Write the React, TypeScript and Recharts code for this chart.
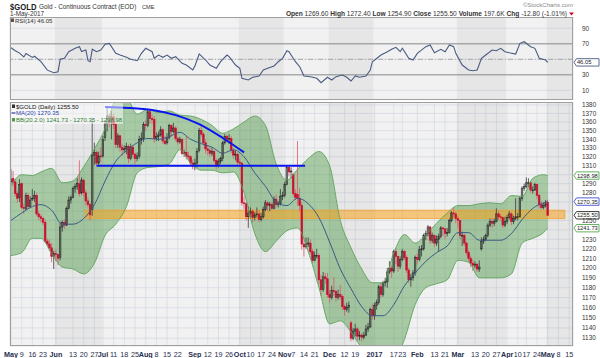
import {
  ComposedChart,
  Bar,
  Line,
  Area,
  XAxis,
  YAxis,
  CartesianGrid,
  ReferenceArea,
  ReferenceLine,
} from 'recharts';

type Candle = [number, number, number, number]; // open, high, low, close

const FONT = '"Liberation Sans", Arial, sans-serif';

// daily candles, one array per month
const may2016: Candle[] = [
  [1292, 1306, 1289, 1295], [1296, 1304, 1287, 1291], [1292, 1295, 1276, 1279], [1279, 1282, 1269, 1274], [1275, 1295, 1270, 1289],
  [1290, 1291, 1262, 1264], [1264, 1268, 1257, 1263], [1263, 1280, 1261, 1277], [1277, 1280, 1263, 1265], [1265, 1276, 1263, 1272],
  [1273, 1284, 1271, 1274], [1274, 1282, 1270, 1277], [1277, 1280, 1255, 1257], [1257, 1260, 1250, 1254], [1254, 1257, 1248, 1252],
  [1252, 1254, 1245, 1248], [1248, 1251, 1226, 1228], [1228, 1231, 1223, 1225], [1225, 1230, 1218, 1221], [1221, 1226, 1206, 1212],
  [1212, 1218, 1199, 1215],
];
const jun2016: Candle[] = [
  [1215, 1219, 1207, 1214], [1214, 1215, 1203, 1210], [1211, 1248, 1208, 1243],
  [1243, 1250, 1238, 1248], [1248, 1251, 1241, 1245], [1245, 1265, 1244, 1263], [1263, 1276, 1262, 1272], [1272, 1277, 1268, 1275],
  [1275, 1287, 1274, 1285], [1285, 1290, 1280, 1287], [1287, 1296, 1283, 1290], [1290, 1316, 1276, 1279], [1280, 1297, 1278, 1294],
  [1294, 1295, 1276, 1280], [1280, 1283, 1266, 1271], [1271, 1275, 1264, 1267], [1267, 1269, 1250, 1256], [1262, 1362, 1255, 1322],
  [1322, 1336, 1311, 1325], [1325, 1327, 1310, 1313], [1313, 1326, 1311, 1321], [1321, 1331, 1314, 1320],
];
const jul2016: Candle[] = [
  [1321, 1344, 1319, 1340],
  [1342, 1362, 1338, 1358], [1358, 1377, 1349, 1367], [1367, 1370, 1354, 1359], [1360, 1373, 1340, 1366],
  [1366, 1370, 1352, 1357], [1357, 1359, 1330, 1334], [1334, 1347, 1330, 1344], [1344, 1345, 1326, 1331], [1331, 1335, 1321, 1328],
  [1328, 1333, 1325, 1329], [1329, 1336, 1323, 1332], [1332, 1334, 1313, 1318], [1318, 1335, 1316, 1331], [1331, 1333, 1319, 1323],
  [1323, 1325, 1312, 1318], [1318, 1325, 1315, 1321], [1321, 1344, 1318, 1340], [1340, 1348, 1334, 1341], [1341, 1360, 1337, 1357],
];
const aug2016: Candle[] = [
  [1357, 1362, 1350, 1356], [1356, 1374, 1354, 1372], [1372, 1375, 1358, 1364], [1364, 1369, 1358, 1363], [1363, 1367, 1336, 1341],
  [1341, 1348, 1338, 1343], [1343, 1349, 1338, 1345], [1345, 1355, 1343, 1351], [1351, 1353, 1335, 1338], [1338, 1344, 1333, 1335],
  [1336, 1347, 1334, 1342], [1342, 1358, 1340, 1356], [1356, 1357, 1343, 1349], [1349, 1359, 1347, 1353], [1353, 1355, 1338, 1341],
  [1341, 1343, 1334, 1337], [1337, 1343, 1335, 1340], [1340, 1341, 1322, 1324], [1324, 1328, 1320, 1325], [1325, 1344, 1317, 1321],
  [1321, 1326, 1316, 1320], [1320, 1322, 1311, 1313], [1313, 1317, 1306, 1309],
];
const sep2016: Candle[] = [
  [1309, 1318, 1305, 1313], [1313, 1330, 1308, 1326],
  [1327, 1353, 1325, 1350], [1350, 1355, 1343, 1346], [1346, 1348, 1333, 1336], [1336, 1340, 1324, 1329],
  [1329, 1333, 1322, 1327], [1327, 1331, 1320, 1324], [1324, 1330, 1321, 1326], [1326, 1328, 1313, 1316], [1316, 1318, 1306, 1310],
  [1310, 1318, 1308, 1315], [1315, 1320, 1312, 1318], [1318, 1338, 1315, 1336], [1336, 1346, 1334, 1343], [1343, 1345, 1336, 1340],
  [1340, 1346, 1335, 1341], [1341, 1344, 1324, 1327], [1327, 1330, 1318, 1322], [1322, 1327, 1316, 1323], [1323, 1325, 1311, 1314],
];
const oct2016: Candle[] = [
  [1314, 1318, 1310, 1313], [1313, 1314, 1266, 1269], [1269, 1276, 1262, 1268], [1268, 1270, 1250, 1254], [1254, 1265, 1242, 1258],
  [1258, 1264, 1252, 1260], [1260, 1262, 1248, 1253], [1253, 1259, 1250, 1256], [1256, 1264, 1253, 1257], [1257, 1261, 1248, 1251],
  [1251, 1258, 1249, 1254], [1254, 1265, 1252, 1262], [1262, 1272, 1260, 1269], [1269, 1271, 1260, 1266], [1266, 1270, 1260, 1267],
  [1267, 1269, 1261, 1263], [1263, 1276, 1262, 1273], [1273, 1278, 1264, 1267], [1267, 1271, 1264, 1268], [1268, 1284, 1266, 1276],
  [1276, 1281, 1272, 1277],
];
const nov2016: Candle[] = [
  [1277, 1292, 1275, 1289], [1289, 1310, 1288, 1308], [1308, 1309, 1298, 1303], [1303, 1308, 1296, 1304],
  [1300, 1302, 1276, 1279], [1279, 1284, 1272, 1275], [1278, 1338, 1266, 1274], [1274, 1285, 1260, 1266], [1266, 1270, 1219, 1225],
  [1225, 1232, 1212, 1222], [1222, 1232, 1220, 1225], [1225, 1232, 1222, 1226], [1226, 1230, 1214, 1217], [1217, 1220, 1205, 1208],
  [1208, 1217, 1207, 1213], [1213, 1220, 1210, 1213], [1213, 1215, 1184, 1188], [1188, 1193, 1172, 1178],
  [1178, 1196, 1176, 1191], [1191, 1195, 1184, 1189], [1189, 1195, 1170, 1173],
];
const dec2016: Candle[] = [
  [1173, 1178, 1165, 1170], [1170, 1182, 1168, 1177],
  [1177, 1191, 1172, 1176], [1176, 1178, 1166, 1170], [1170, 1178, 1168, 1173], [1173, 1183, 1168, 1171], [1171, 1173, 1158, 1161],
  [1161, 1163, 1152, 1158], [1158, 1165, 1156, 1160], [1160, 1166, 1155, 1162], [1145, 1147, 1127, 1130], [1130, 1140, 1128, 1137],
  [1137, 1144, 1132, 1139], [1139, 1141, 1128, 1132], [1132, 1137, 1128, 1133], [1133, 1135, 1127, 1131], [1131, 1136, 1129, 1133],
  [1133, 1143, 1132, 1139], [1139, 1145, 1136, 1141], [1141, 1160, 1140, 1158], [1158, 1164, 1148, 1152],
];
const jan2017: Candle[] = [
  [1152, 1165, 1148, 1162], [1162, 1168, 1158, 1165], [1165, 1183, 1163, 1181], [1181, 1185, 1170, 1173],
  [1173, 1187, 1171, 1185], [1185, 1190, 1181, 1186], [1186, 1200, 1180, 1196], [1196, 1207, 1194, 1200], [1200, 1203, 1190, 1197],
  [1197, 1219, 1195, 1217], [1217, 1220, 1204, 1212], [1212, 1213, 1196, 1202], [1202, 1212, 1199, 1209],
  [1209, 1220, 1207, 1217], [1217, 1219, 1208, 1211], [1211, 1213, 1195, 1198], [1198, 1200, 1185, 1188], [1188, 1194, 1181, 1190],
  [1190, 1198, 1187, 1195], [1195, 1213, 1192, 1211],
];
const feb2017: Candle[] = [
  [1211, 1215, 1204, 1209], [1209, 1223, 1207, 1219], [1219, 1224, 1212, 1220],
  [1220, 1236, 1218, 1234], [1234, 1239, 1229, 1236], [1236, 1245, 1233, 1243], [1243, 1244, 1225, 1229], [1229, 1237, 1226, 1234],
  [1234, 1235, 1222, 1226], [1226, 1234, 1223, 1230], [1230, 1236, 1217, 1233], [1233, 1244, 1231, 1242], [1242, 1243, 1233, 1241],
  [1241, 1242, 1230, 1236], [1236, 1242, 1233, 1237], [1237, 1252, 1236, 1250], [1250, 1260, 1248, 1258],
  [1258, 1264, 1253, 1257], [1257, 1259, 1247, 1252],
];
const mar2017: Candle[] = [
  [1252, 1255, 1242, 1250], [1250, 1251, 1230, 1234], [1234, 1238, 1223, 1234],
  [1234, 1236, 1223, 1226], [1226, 1228, 1213, 1216], [1216, 1219, 1207, 1210], [1210, 1213, 1201, 1205], [1205, 1209, 1197, 1203],
  [1203, 1207, 1200, 1204], [1204, 1205, 1196, 1199], [1199, 1208, 1196, 1201], [1220, 1232, 1218, 1228], [1228, 1233, 1225, 1230],
  [1230, 1236, 1228, 1234], [1234, 1247, 1232, 1245], [1245, 1252, 1243, 1249], [1249, 1252, 1242, 1247], [1247, 1252, 1244, 1249],
  [1249, 1263, 1248, 1257], [1257, 1260, 1250, 1254], [1254, 1257, 1250, 1253], [1253, 1254, 1242, 1245], [1245, 1254, 1243, 1249],
];
const apr2017: Candle[] = [
  [1249, 1256, 1246, 1253], [1253, 1260, 1251, 1257], [1257, 1259, 1245, 1249], [1249, 1255, 1246, 1252], [1252, 1274, 1250, 1254],
  [1254, 1258, 1250, 1254], [1254, 1276, 1253, 1274], [1274, 1287, 1271, 1285], [1285, 1290, 1282, 1287],
  [1287, 1297, 1285, 1291], [1291, 1296, 1286, 1291], [1291, 1292, 1280, 1283], [1283, 1287, 1279, 1283], [1283, 1291, 1282, 1289],
  [1289, 1290, 1273, 1277], [1277, 1279, 1263, 1267], [1267, 1271, 1262, 1264], [1264, 1269, 1262, 1266], [1266, 1272, 1264, 1268],
];
const may2017: Candle[] = [[1269.6, 1272.4, 1254.9, 1255.5]];

// Bollinger band / MA(20) (trading-day index)
const bandDays = [0, 5, 10, 14, 19, 24, 29, 34, 39, 44, 49, 54, 59, 64, 69, 74, 79, 84, 89, 94, 99, 104, 109, 114, 119, 124, 129, 134, 139, 144, 149, 154, 159, 164, 169, 174, 179, 184, 189, 194, 199, 204, 209, 214, 219, 224, 229, 234, 239, 244, 249, 251];
const bandMid = [1250, 1258, 1265, 1267, 1261, 1246, 1246, 1252, 1267, 1293, 1315, 1327, 1336, 1341, 1340, 1343, 1348, 1340, 1335, 1331, 1324, 1328, 1320, 1302, 1287, 1270, 1266, 1274, 1268, 1253, 1227, 1199, 1179, 1161, 1152, 1152, 1163, 1182, 1195, 1207, 1216, 1223, 1237, 1237, 1229, 1229, 1229, 1236, 1251, 1263, 1269, 1270.35];
const bandUpper = [1288, 1300, 1299, 1303, 1307, 1291, 1293, 1309, 1329, 1352, 1385, 1388, 1369, 1375, 1371, 1373, 1368, 1367, 1363, 1356, 1347, 1352, 1360, 1367, 1356, 1312, 1294, 1306, 1318, 1326, 1310, 1250, 1221, 1199, 1185, 1185, 1216, 1235, 1226, 1235, 1247, 1258, 1266, 1266, 1268, 1269, 1268, 1277, 1276, 1296, 1300, 1298.98];
const bandLower = [1213, 1216, 1231, 1231, 1215, 1201, 1199, 1194, 1205, 1234, 1246, 1265, 1302, 1308, 1309, 1312, 1328, 1313, 1305, 1305, 1302, 1303, 1280, 1236, 1217, 1228, 1239, 1242, 1217, 1180, 1144, 1147, 1136, 1122, 1119, 1118, 1109, 1129, 1163, 1180, 1184, 1188, 1208, 1206, 1190, 1190, 1190, 1194, 1226, 1231, 1237, 1241.73];

// RSI(14)
const rsiDays = [0, 2, 4, 6, 7, 10, 11, 14, 17, 20, 22, 23, 25, 27, 30, 32, 33, 35, 36, 37, 38, 40, 42, 44, 46, 49, 51, 54, 56, 59, 61, 63, 66, 67, 69, 71, 73, 75, 77, 80, 82, 85, 86, 88, 91, 93, 96, 98, 101, 102, 105, 107, 108, 111, 113, 116, 118, 120, 123, 125, 127, 129, 130, 133, 135, 137, 140, 143, 145, 148, 150, 152, 155, 157, 159, 161, 163, 166, 168, 169, 173, 176, 178, 180, 182, 183, 186, 188, 190, 194, 196, 198, 201, 203, 205, 207, 208, 211, 214, 216, 218, 220, 222, 225, 227, 229, 231, 233, 236, 238, 240, 243, 245, 247, 250, 251];
const rsiValues = [65, 61, 58, 53, 57.5, 52.5, 54, 47, 36, 32.7, 34, 50, 51.3, 59.8, 64.2, 66.3, 60, 62, 48.2, 47, 63, 59.8, 62, 69.4, 70.6, 57.7, 55.5, 52.6, 50, 48.2, 57.7, 64.2, 59.8, 51.3, 55.5, 52.6, 55.5, 51.3, 53.4, 44.8, 42.6, 36.2, 41.4, 56.9, 49.1, 42.6, 38.4, 46.9, 55.5, 53.4, 42.6, 38.4, 25.5, 23.3, 26.8, 28.5, 36.2, 38.4, 41.4, 46.9, 51.3, 61.1, 59.8, 46.9, 40.5, 28.5, 27.6, 25.5, 19.8, 26.8, 23.3, 27.6, 29.7, 26.8, 22, 28.5, 26.8, 28.5, 36.2, 46.9, 55.5, 59.8, 62.9, 65.5, 59.8, 64.2, 51.3, 49.1, 57.7, 66.3, 68.5, 58.5, 62.9, 59.8, 68.5, 66.3, 57.7, 42.6, 36.2, 35.3, 36.2, 51.3, 55.5, 62, 61.1, 64.2, 59.8, 58.5, 56.8, 70.6, 72.7, 66.3, 64.2, 51.3, 49.1, 46.05];

// hand-drawn annotations
const arcDays = [44, 55, 66, 77, 88, 99, 109];
const arcPrices = [1377.5, 1376.5, 1374, 1368, 1357.5, 1341.5, 1325];
const supportLevel = 1310;
const supportFrom = 40;
const supportTo = 137.5;
const zoneLow = 1252;
const zoneHigh = 1261;
const zoneFrom = 34.7;
const zoneTo = 259;

// x axis (trading-day index of each label)
const tickDays = [0, 5, 10, 15, 21, 29, 34, 39, 43, 48, 53, 58, 63, 68, 73, 78, 86, 92, 97, 102, 107, 112, 117, 122, 128, 132, 137, 142, 149, 156, 161, 170, 179, 183, 190, 198, 203, 209, 217, 222, 227, 232, 237, 241, 246, 251, 256, 261];
const tickLabels = ['May', '9', '16', '23', 'Jun', '13', '20', '27', 'Jul', '11', '18', '25', 'Aug', '8', '15', '22', 'Sep', '12', '19', '26', 'Oct', '10', '17', '24', 'Nov', '7', '14', '21', 'Dec', '12', '19', '2017', '17', '23', 'Feb', '13', '21', 'Mar', '13', '20', '27', 'Apr', '10', '17', '24', 'May', '8', '15'];
// shaded months [first index, last index]
const shadedMonths: [number, number][] = [[21, 42], [107, 127], [149, 169], [209, 231], [251, 263]];

const priceTicks = [1130, 1140, 1150, 1160, 1170, 1180, 1190, 1200, 1210, 1220, 1230, 1240, 1250, 1260, 1270, 1280, 1290, 1300, 1310, 1320, 1330, 1340, 1350, 1360, 1370, 1380];
// tick labels sitting under the value tags
const priceTicksCovered = [1240, 1260, 1270, 1300];
const rsiTicks = [10, 30, 50, 70, 90];
const rsiTicksCovered = [50];

const xDomain: [number, number] = [-0.47, 262.8];

const candles = [
  ...may2016, ...jun2016, ...jul2016, ...aug2016, ...sep2016, ...oct2016,
  ...nov2016, ...dec2016, ...jan2017, ...feb2017, ...mar2017, ...apr2017, ...may2017,
];

const rows: any[] = candles.map(([o, h, l, c], i) => ({
  i,
  o,
  h,
  l,
  c,
  prev: i > 0 ? candles[i - 1][3] : o,
  hl: [l, h],
}));
bandDays.forEach((d, k) => {
  rows[d].bb = [bandLower[k], bandUpper[k]];
  rows[d].up = bandUpper[k];
  rows[d].lo = bandLower[k];
  rows[d].ma = bandMid[k];
});
arcDays.forEach((d, k) => {
  rows[d].arc = arcPrices[k];
});

const rsiRows = rsiDays.map((d, k) => ({ i: d, rsi: rsiValues[k] }));

const labelByDay = new Map(tickDays.map((d, k) => [d, tickLabels[k]]));

function DateTick({ x, y, payload }: any) {
  const label = labelByDay.get(payload.value) ?? '';
  const bold = label.length > 2;
  return (
    <text
      x={x}
      y={y + 8.5}
      textAnchor="middle"
      fontSize={7.2}
      fontFamily={FONT}
      fontWeight={bold ? 700 : 400}
      fill="#1f2d4d"
    >
      {label}
    </text>
  );
}

function makeValueTick(covered: number[]) {
  return function ValueTick({ x, y, payload }: any) {
    if (covered.includes(payload.value)) return null;
    return (
      <text x={x} y={y} dy="0.355em" textAnchor="start" fontSize={6.4} fontFamily={FONT} fill="#333">
        {payload.value}
      </text>
    );
  };
}
const PriceTick = makeValueTick(priceTicksCovered);
const RsiTick = makeValueTick(rsiTicksCovered);

function CandleShape(props: any) {
  const { x, y, width, height, payload } = props;
  if (!payload || height == null || isNaN(y)) return null;
  const { o, h, l, c, prev } = payload;
  const span = Math.log(h) - Math.log(l);
  const py = (p: number) => y + (span > 0 ? (height * (Math.log(h) - Math.log(p))) / span : 0);
  const cx = x + width / 2;
  const down = c < prev;
  const body = down ? '#c8102e' : '#262626';
  const wick = down ? '#e0566e' : '#3a3a3a';
  const top = py(Math.max(o, c));
  const bot = py(Math.min(o, c));
  return (
    <g>
      <line x1={cx} x2={cx} y1={y} y2={y + height} stroke={wick} strokeWidth={0.8} />
      <rect
        x={cx - 0.8}
        y={top}
        width={1.6}
        height={Math.max(bot - top, 0.7)}
        fill={c < o ? body : 'none'}
        stroke={body}
        strokeWidth={0.6}
      />
    </g>
  );
}

function ValueTag({ viewBox, text, color }: any) {
  if (!viewBox) return null;
  const x = viewBox.x + viewBox.width + 1;
  const y = viewBox.y;
  return (
    <g>
      <path
        d={`M${x} ${y} L${x + 2.5} ${y - 3.7} H${x + 25} V${y + 3.7} H${x + 2.5} Z`}
        fill="#ffffff"
        stroke={color}
        strokeWidth={0.9}
      />
      <text x={x + 2.9} y={y + 2} fontSize={5.8} fontFamily={FONT} fill="#222">
        {text}
      </text>
    </g>
  );
}

function RsiPanel() {
  return (
    <ComposedChart width={600} height={83} data={rsiRows} margin={{ top: 0, right: 0, bottom: 0, left: 10 }}>
      <CartesianGrid stroke="#d5dae3" strokeWidth={0.8} fill="#f1f1f1" />
      {shadedMonths.map(([a, b]) => (
        <ReferenceArea key={a} x1={a - 0.5} x2={b + 0.5} fill="#000" fillOpacity={0.045} stroke="none" ifOverflow="hidden" />
      ))}
      <XAxis type="number" dataKey="i" domain={xDomain} ticks={tickDays} interval={0} height={0} tick={false} axisLine={false} tickLine={false} allowDataOverflow />
      <YAxis
        orientation="right"
        width={27}
        domain={[-2.5, 104.6]}
        ticks={rsiTicks}
        interval={0}
        tick={<RsiTick />}
        tickLine={false}
        axisLine={false}
        tickMargin={3}
        allowDataOverflow
      />
      <ReferenceLine y={70} stroke="#8f8f8f" strokeWidth={1} />
      <ReferenceLine y={30} stroke="#8f8f8f" strokeWidth={1} />
      <ReferenceLine y={50} stroke="#9a9a9a" strokeWidth={0.8} strokeDasharray="5 2 1 2" />
      <Line dataKey="rsi" type="linear" stroke="#4a5a80" strokeWidth={1.1} dot={false} isAnimationActive={false} />
      <ReferenceLine y={46.05} stroke="none" label={<ValueTag text="46.05" color="#4a5a80" />} />
    </ComposedChart>
  );
}

function PricePanel() {
  return (
    <ComposedChart width={600} height={256} data={rows} margin={{ top: 0, right: 0, bottom: 0, left: 10 }}>
      <CartesianGrid stroke="#d5dae3" strokeWidth={0.8} fill="#f1f1f1" />
      {shadedMonths.map(([a, b]) => (
        <ReferenceArea key={a} x1={a - 0.5} x2={b + 0.5} fill="#000" fillOpacity={0.045} stroke="none" ifOverflow="hidden" />
      ))}
      <XAxis
        type="number"
        dataKey="i"
        domain={xDomain}
        ticks={tickDays}
        interval={0}
        height={12}
        tick={<DateTick />}
        tickLine={false}
        tickSize={0}
        axisLine={false}
        allowDataOverflow
      />
      <YAxis
        orientation="right"
        scale="log"
        width={27}
        domain={[1122.5, 1383.5]}
        ticks={priceTicks}
        interval={0}
        tick={<PriceTick />}
        tickLine={false}
        axisLine={false}
        tickMargin={3}
        allowDataOverflow
      />
      <Area dataKey="bb" type="monotone" connectNulls fill="#4e9a46" fillOpacity={0.45} stroke="none" isAnimationActive={false} />
      <Line dataKey="up" type="monotone" connectNulls stroke="#5ea35a" strokeWidth={0.9} dot={false} isAnimationActive={false} />
      <Line dataKey="lo" type="monotone" connectNulls stroke="#5ea35a" strokeWidth={0.9} dot={false} isAnimationActive={false} />
      <Line dataKey="ma" type="monotone" connectNulls stroke="#3b5a85" strokeWidth={1} dot={false} isAnimationActive={false} />
      <Bar dataKey="hl" barSize={2} shape={<CandleShape />} isAnimationActive={false} />
      <ReferenceArea
        x1={zoneFrom}
        x2={zoneTo}
        y1={zoneLow}
        y2={zoneHigh}
        fill="#f5a21e"
        fillOpacity={0.55}
        stroke="#f0a030"
        strokeWidth={0.8}
      />
      <ReferenceLine
        segment={[{ x: supportFrom, y: supportLevel }, { x: supportTo, y: supportLevel }]}
        stroke="#0a14f0"
        strokeWidth={2}
      />
      <Line dataKey="arc" type="monotone" connectNulls stroke="#0a14f0" strokeWidth={2} dot={false} isAnimationActive={false} />
      <ReferenceLine y={1298.98} stroke="none" label={<ValueTag text="1298.98" color="#55a84f" />} />
      <ReferenceLine y={1270.35} stroke="none" label={<ValueTag text="1270.35" color="#3d50c8" />} />
      <ReferenceLine y={1255.5} stroke="none" label={<ValueTag text="1255.50" color="#222" />} />
      <ReferenceLine y={1241.73} stroke="none" label={<ValueTag text="1241.73" color="#55a84f" />} />
    </ComposedChart>
  );
}

function Overlay() {
  return (
    <svg width={600} height={358} style={{ position: 'absolute', left: 0, top: 0, pointerEvents: 'none' }} fontFamily={FONT}>
      <text x={10} y={9.5} fontSize={9.5} fontWeight={700} fill="#1a1a1a" textLength={26.5} lengthAdjust="spacingAndGlyphs">
        $GOLD
      </text>
      <text x={39} y={9} fontSize={6.4} fill="#333">Gold - Continuous Contract (EOD)</text>
      <text x={142} y={9} fontSize={5.6} fill="#333">CME</text>
      <text x={10} y={16.3} fontSize={6.4} fill="#333">1-May-2017</text>
      <text x={573} y={7} fontSize={6} textAnchor="end" fill="#888">©StockCharts.com</text>
      <text x={567} y={15.6} fontSize={6.6} textAnchor="end" fill="#333">
        <tspan fontWeight={700}>Open</tspan> 1269.60 <tspan fontWeight={700}>High</tspan> 1272.40{' '}
        <tspan fontWeight={700}>Low</tspan> 1254.90 <tspan fontWeight={700}>Close</tspan> 1255.50{' '}
        <tspan fontWeight={700}>Volume</tspan> 197.6K <tspan fontWeight={700}>Chg</tspan> -12.80 (-1.01%)
      </text>
      <path d="M569 12.5 L574 12.5 L571.5 15.5 Z" fill="#d0021b" />

      <rect x={11} y={18.5} width={3} height={3.5} fill="#555" />
      <text x={15} y={22.5} fontSize={6} fill="#333">RSI(14) 46.05</text>

      <rect x={11} y={103} width={112} height={21} fill="#ffffff" fillOpacity={0.5} />
      <rect x={12} y={104.5} width={3} height={3.5} fill="#333" />
      <text x={16} y={108.5} fontSize={6} fill="#111">$GOLD (Daily) 1255.50</text>
      <line x1={11.5} x2={15.5} y1={113} y2={113} stroke="#2b3ea8" strokeWidth={1.2} />
      <text x={16} y={115} fontSize={6} fill="#2b3ea8">MA(20) 1270.35</text>
      <rect x={12} y={118} width={3} height={3.5} fill="#4e9a46" />
      <text x={16} y={121.8} fontSize={6} fill="#2e7d32">BB(20,2.0) 1241.73 - 1270.35 - 1298.98</text>
    </svg>
  );
}

export default function App() {
  return (
    <div
      style={{
        position: 'absolute',
        left: 0,
        top: 0,
        width: 600,
        height: 358,
        background: '#ffffff',
        overflow: 'hidden',
        fontFamily: FONT,
      }}
    >
      <div style={{ position: 'absolute', left: 0, top: 17 }}>
        <RsiPanel />
      </div>
      <div style={{ position: 'absolute', left: 0, top: 102 }}>
        <PricePanel />
      </div>
      <div style={{ position: 'absolute', left: 10, top: 17, width: 563, height: 83, border: '1px solid #a0a0a0', boxSizing: 'border-box', pointerEvents: 'none' }} />
      <div style={{ position: 'absolute', left: 10, top: 102, width: 563, height: 244, border: '1px solid #a0a0a0', boxSizing: 'border-box', pointerEvents: 'none' }} />
      <Overlay />
    </div>
  );
}
